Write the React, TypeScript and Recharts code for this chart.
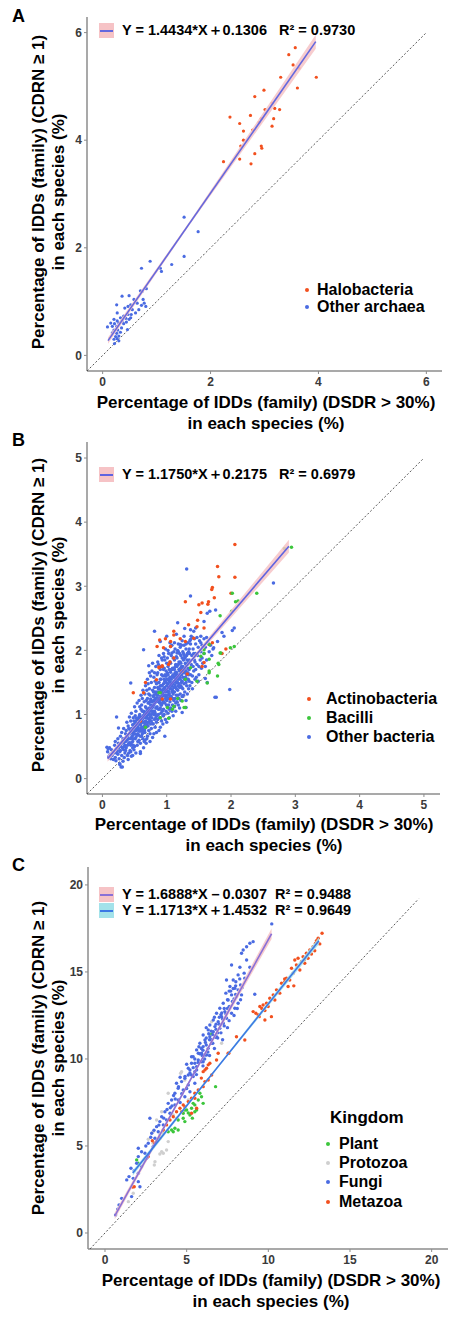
import React from "react";
import { ScatterChart, Scatter, XAxis, YAxis } from "recharts";

type Pt = [number, number];

// ---------- colours ----------
const ORANGE = "#F2501E";
const BLUE = "#4A6BE2";
const GREEN = "#3CC63C";
const GREY = "#CFCFCF";
const AXIS = "#8C8C8C";
const PINK = "#F6C3C6";
const CYAN = "#A3E2EA";

// ---------- panel A ----------
const halobacteria: Pt[] = [
  [3.57, 5.72], [3.45, 5.59], [3.53, 5.4], [3.64, 5.34], [3.96, 5.17], [3.3, 5.17], [3.61, 4.97],
  [2.99, 4.93], [2.82, 4.81], [3.14, 4.69], [3.19, 4.59], [3.28, 4.57], [3.01, 4.57], [2.36, 4.43],
  [2.74, 4.46], [2.94, 4.4], [2.9, 4.33], [3.17, 4.4], [2.54, 4.31], [3.14, 4.26], [2.78, 4.19],
  [2.61, 4.17], [2.61, 4.0], [2.56, 3.89], [2.94, 3.89], [2.95, 3.85], [2.82, 3.75], [2.54, 3.65],
  [2.24, 3.6], [2.75, 3.56],
];
const otherArchaea: Pt[] = [
  [1.51, 2.57], [1.77, 2.3], [1.51, 1.84], [1.28, 1.69], [0.88, 1.75], [0.72, 1.62], [1.07, 1.62],
  [1.09, 1.56], [0.81, 1.24], [0.7, 1.2], [0.73, 1.19], [0.36, 1.1], [0.49, 1.11], [0.58, 1.04],
  [0.75, 1.04], [0.77, 0.97], [0.72, 0.93], [0.8, 0.91], [0.52, 0.94], [0.47, 0.91], [0.64, 0.97],
  [0.26, 0.94], [0.41, 0.88], [0.55, 0.85], [0.27, 0.79], [0.47, 0.76], [0.53, 0.76], [0.39, 0.73],
  [0.33, 0.7], [0.43, 0.69], [0.49, 0.67], [0.21, 0.67], [0.27, 0.64], [0.36, 0.64], [0.15, 0.6],
  [0.22, 0.59], [0.3, 0.6], [0.39, 0.59], [0.09, 0.53], [0.18, 0.54], [0.26, 0.54], [0.35, 0.51],
  [0.46, 0.48], [0.21, 0.47], [0.28, 0.47], [0.18, 0.42], [0.26, 0.41], [0.33, 0.43], [0.24, 0.35],
  [0.3, 0.36], [0.21, 0.3], [0.27, 0.31], [0.22, 0.22], [0.3, 0.27], [0.67, 0.85], [0.61, 0.79],
  [0.52, 0.7], [0.44, 0.62],
];

// ---------- panel B ----------
const actinobacteria: Pt[] = [
  [2.06, 3.65], [1.79, 3.31], [1.81, 3.15], [2.06, 3.14], [1.71, 2.98], [1.7, 2.95], [1.74, 2.82],
  [1.65, 2.76], [1.64, 2.72], [1.29, 2.76], [1.5, 2.71], [1.55, 2.74], [1.53, 2.59], [1.48, 2.47],
  [1.34, 2.4], [1.11, 2.3], [1.11, 2.24], [1.47, 2.37], [1.58, 2.35], [0.89, 2.16], [0.98, 2.18],
  [1.06, 2.14], [0.85, 2.06], [1.21, 2.18], [1.29, 2.14], [1.42, 2.19], [1.92, 2.02], [0.95, 2.04],
  [1.86, 1.95], [0.88, 1.73], [0.93, 1.75], [1.66, 2.09], [1.71, 2.12], [2.0, 2.89],
  [0.48, 1.34], [0.84, 1.54], [0.88, 1.74], [0.93, 1.76], [1.05, 1.82], [0.64, 1.34], [1.06, 1.24],
  [0.59, 0.9], [1.55, 1.75], [0.67, 1.5], [1.06, 2.06], [1.11, 1.88], [1.03, 1.78], [1.24, 1.68],
  [1.32, 1.63], [1.58, 1.81], [0.93, 1.24],
];
const bacilli: Pt[] = [
  [2.83, 3.59], [2.94, 3.61], [2.4, 2.89], [2.02, 2.89], [2.07, 2.76], [2.11, 2.77], [1.83, 2.54],
  [2.01, 2.61], [1.83, 1.96], [2.05, 2.06], [1.8, 1.8], [1.58, 1.95], [1.53, 1.91], [1.66, 1.86],
  [1.37, 1.73], [1.63, 1.49], [1.47, 1.52], [1.29, 1.11], [1.17, 1.25], [1.03, 0.94], [0.67, 0.8],
  [0.9, 1.34], [1.66, 1.68], [1.09, 1.08], [1.58, 2.01], [1.66, 2.09], [1.81, 1.78], [1.84, 1.96],
  [1.99, 2.04], [1.79, 1.6], [1.66, 1.65], [1.29, 1.55], [1.24, 1.21], [1.11, 1.13], [0.9, 0.95],
  [1.27, 1.11], [0.88, 1.34], [1.01, 1.11],
];
const otherBacteria: Pt[] = [
  [0.08, 0.42], [0.1, 0.34], [0.12, 0.38], [0.14, 0.45], [0.11, 0.48], [0.15, 0.36], [0.13, 0.31],
  [0.16, 0.42], [0.09, 0.46], [0.18, 0.4], [0.2, 0.33], [0.22, 0.47], [0.19, 0.52], [0.24, 0.38],
  [0.21, 0.28], [0.25, 0.55], [0.23, 0.44], [0.17, 0.3], [0.26, 0.31], [0.2, 0.58], [0.24, 0.62],
  [0.27, 0.42], [0.29, 0.5], [0.3, 0.36], [0.31, 0.58], [0.28, 0.66], [0.33, 0.45], [0.32, 0.27],
  [0.34, 0.62], [0.35, 0.52], [0.3, 0.72], [0.33, 0.78], [0.27, 0.22], [0.35, 0.4], [0.29, 0.18],
  [0.34, 0.33], [0.31, 0.48], [0.36, 0.7], [0.37, 0.48], [0.38, 0.6], [0.39, 0.36], [0.4, 0.82],
  [0.41, 0.55], [0.42, 0.7], [0.43, 0.44], [0.44, 0.9], [0.45, 0.63], [0.38, 0.88], [0.4, 0.3],
  [0.42, 0.96], [0.44, 0.52], [0.43, 0.76], [0.39, 0.66], [0.41, 0.4], [0.45, 0.35], [0.37, 0.75],
  [0.46, 0.78], [0.45, 1.02], [0.47, 0.58], [0.48, 0.7], [0.49, 0.45], [0.5, 0.85], [0.51, 0.62],
  [0.52, 1.05], [0.53, 0.75], [0.54, 0.52], [0.55, 0.92], [0.48, 0.95], [0.5, 1.12], [0.52, 0.4],
  [0.54, 0.68], [0.53, 0.84], [0.47, 0.36], [0.49, 0.8], [0.51, 0.98], [0.55, 0.58], [0.5, 0.5],
  [0.46, 0.66], [0.54, 1.18], [0.52, 0.9], [0.55, 0.78], [0.48, 0.52], [0.56, 0.68], [0.57, 0.85],
  [0.58, 1.0], [0.59, 0.55], [0.6, 0.78], [0.61, 1.15], [0.62, 0.92], [0.63, 0.62], [0.64, 1.05],
  [0.65, 0.82], [0.57, 1.22], [0.59, 0.42], [0.6, 1.3], [0.62, 0.7], [0.63, 1.38], [0.64, 0.48],
  [0.58, 0.74], [0.61, 0.88], [0.65, 1.2], [0.56, 0.95], [0.6, 1.08], [0.62, 1.25], [0.64, 0.95],
  [0.58, 1.12], [0.65, 0.58], [0.63, 0.78], [0.57, 0.6], [0.61, 0.66], [0.59, 0.9], [0.66, 0.72],
  [0.67, 0.9], [0.68, 1.1], [0.69, 0.62], [0.7, 1.25], [0.71, 0.82], [0.72, 1.0], [0.73, 1.4],
  [0.74, 0.7], [0.75, 1.15], [0.66, 1.32], [0.67, 1.45], [0.68, 0.55], [0.69, 0.98], [0.7, 1.55],
  [0.71, 1.08], [0.72, 0.75], [0.73, 0.92], [0.74, 1.3], [0.75, 1.6], [0.66, 1.02], [0.68, 1.22],
  [0.7, 0.88], [0.72, 1.18], [0.74, 1.05], [0.67, 0.8], [0.69, 1.38], [0.71, 1.48], [0.73, 1.65],
  [0.75, 0.85], [0.7, 0.66], [0.72, 1.32], [0.68, 0.95], [0.74, 0.58], [0.66, 0.6], [0.76, 0.78],
  [0.77, 0.95], [0.78, 1.12], [0.79, 1.28], [0.8, 0.7], [0.81, 1.42], [0.82, 1.02], [0.83, 1.2],
  [0.84, 0.88], [0.85, 1.35], [0.76, 1.5], [0.77, 1.68], [0.78, 0.64], [0.79, 1.05], [0.8, 1.58],
  [0.81, 0.92], [0.82, 1.25], [0.83, 1.75], [0.84, 1.1], [0.85, 0.98], [0.76, 1.22], [0.78, 1.38],
  [0.8, 1.15], [0.82, 0.8], [0.84, 1.48], [0.77, 1.1], [0.79, 0.85], [0.81, 1.65], [0.83, 1.32],
  [0.85, 1.62], [0.78, 1.8], [0.8, 1.0], [0.82, 1.52], [0.84, 0.72], [0.76, 1.0], [0.86, 1.82],
  [0.8, 1.3], [0.83, 0.95], [0.86, 0.92], [0.87, 1.08], [0.88, 1.25], [0.89, 1.4], [0.9, 0.8],
  [0.91, 1.55], [0.92, 1.15], [0.93, 1.32], [0.94, 0.98], [0.95, 1.48], [0.86, 1.65], [0.87, 1.78],
  [0.88, 0.75], [0.89, 1.18], [0.9, 1.7], [0.91, 1.02], [0.92, 1.38], [0.93, 1.85], [0.94, 1.22],
  [0.95, 1.08], [0.86, 1.3], [0.88, 1.5], [0.9, 1.28], [0.92, 0.9], [0.94, 1.6], [0.87, 1.2],
  [0.89, 0.95], [0.91, 1.75], [0.93, 1.45], [0.95, 1.7], [0.88, 1.92], [0.9, 1.1], [0.92, 1.62],
  [0.94, 0.85], [0.96, 1.9], [0.9, 1.45], [0.93, 1.05], [0.87, 1.4], [0.95, 1.3], [0.91, 1.25],
  [0.96, 1.0], [0.97, 1.18], [0.98, 1.35], [0.99, 1.5], [1.0, 0.88], [1.01, 1.65], [1.02, 1.25],
  [1.03, 1.42], [1.04, 1.08], [1.05, 1.58], [0.96, 1.72], [0.97, 1.85], [0.98, 0.92], [0.99, 1.28],
  [1.0, 1.8], [1.01, 1.12], [1.02, 1.48], [1.03, 1.95], [1.04, 1.32], [1.05, 1.2], [0.96, 1.4],
  [0.98, 1.6], [1.0, 1.38], [1.02, 1.02], [1.04, 1.7], [0.97, 1.3], [0.99, 1.05], [1.01, 1.88],
  [1.03, 1.55], [1.05, 1.82], [0.98, 2.02], [1.0, 1.22], [1.02, 1.75], [1.04, 0.95], [1.0, 1.55],
  [1.03, 1.15], [0.97, 1.52], [1.05, 1.4], [1.01, 1.35], [0.99, 1.68], [1.06, 1.1], [1.07, 1.28],
  [1.08, 1.45], [1.09, 1.6], [1.1, 0.98], [1.11, 1.72], [1.12, 1.35], [1.13, 1.52], [1.14, 1.18],
  [1.15, 1.66], [1.06, 1.8], [1.07, 1.92], [1.08, 1.05], [1.09, 1.38], [1.1, 1.88], [1.11, 1.22],
  [1.12, 1.58], [1.13, 2.02], [1.14, 1.42], [1.15, 1.3], [1.06, 1.5], [1.08, 1.7], [1.1, 1.48],
  [1.12, 1.12], [1.14, 1.78], [1.07, 1.4], [1.09, 1.15], [1.11, 1.98], [1.13, 1.65], [1.15, 1.9],
  [1.08, 2.08], [1.1, 1.32], [1.12, 1.85], [1.14, 1.05], [1.1, 1.62], [1.13, 1.25], [1.15, 1.5],
  [1.16, 1.2], [1.17, 1.38], [1.18, 1.55], [1.19, 1.7], [1.2, 1.1], [1.21, 1.82], [1.22, 1.45],
  [1.23, 1.62], [1.24, 1.28], [1.25, 1.75], [1.16, 1.88], [1.17, 2.0], [1.18, 1.15], [1.19, 1.48],
  [1.2, 1.95], [1.21, 1.32], [1.22, 1.68], [1.23, 2.08], [1.24, 1.52], [1.25, 1.4], [1.16, 1.6],
  [1.18, 1.78], [1.2, 1.58], [1.22, 1.22], [1.24, 1.88], [1.17, 1.5], [1.19, 1.25], [1.21, 2.05],
  [1.23, 1.75], [1.25, 1.98], [1.2, 1.42], [1.22, 1.92], [1.18, 2.1], [1.26, 1.3], [1.27, 1.48],
  [1.28, 1.65], [1.29, 1.8], [1.3, 1.22], [1.31, 1.92], [1.32, 1.55], [1.33, 1.72], [1.34, 1.4],
  [1.35, 1.85], [1.26, 1.95], [1.27, 2.08], [1.28, 1.35], [1.29, 1.58], [1.3, 2.02], [1.31, 1.45],
  [1.32, 1.78], [1.33, 2.12], [1.34, 1.62], [1.35, 1.52], [1.26, 1.7], [1.28, 1.88], [1.3, 1.68],
  [1.32, 1.32], [1.34, 1.98], [1.36, 2.15], [1.3, 1.5], [1.33, 1.95], [1.36, 1.45], [1.37, 1.62],
  [1.38, 1.78], [1.39, 1.92], [1.4, 1.4], [1.41, 2.02], [1.42, 1.68], [1.43, 1.85], [1.44, 1.55],
  [1.45, 1.95], [1.37, 2.1], [1.39, 1.5], [1.41, 1.75], [1.43, 2.18], [1.45, 1.7], [1.38, 2.22],
  [1.42, 1.95], [1.44, 1.82], [1.4, 1.6], [1.46, 1.58], [1.47, 1.78], [1.48, 1.92], [1.49, 2.05],
  [1.5, 1.62], [1.51, 2.15], [1.52, 1.85], [1.53, 1.98], [1.54, 1.72], [1.55, 2.08], [1.47, 2.2],
  [1.5, 1.75], [1.53, 2.22], [1.55, 1.88], [1.49, 1.52], [1.56, 1.8], [1.58, 1.95], [1.6, 2.05],
  [1.62, 1.85], [1.64, 2.12], [1.66, 1.98], [1.58, 2.18], [1.62, 2.2], [1.68, 2.08], [1.7, 1.92],
  [1.6, 1.75],
  // densest core of the cloud
  [0.46, 0.72], [0.47, 0.84], [0.48, 0.62], [0.49, 0.9], [0.5, 0.7], [0.51, 0.78], [0.52, 0.64],
  [0.53, 0.94], [0.54, 0.82], [0.55, 0.7], [0.56, 0.86], [0.57, 0.76], [0.58, 0.92], [0.59, 0.66],
  [0.6, 0.96], [0.61, 0.8], [0.62, 1.05], [0.63, 0.88], [0.64, 0.72], [0.65, 1.0], [0.66, 0.86],
  [0.67, 1.12], [0.68, 0.8], [0.69, 1.05], [0.7, 0.94], [0.71, 1.18], [0.72, 0.88], [0.73, 1.1],
  [0.74, 0.96], [0.75, 1.24], [0.76, 0.9], [0.77, 1.2], [0.78, 1.02], [0.79, 1.15], [0.8, 1.22],
  [0.81, 1.05], [0.82, 1.35], [0.83, 1.1], [0.84, 1.26], [0.85, 1.12], [0.86, 1.42], [0.87, 1.0],
  [0.88, 1.35], [0.89, 1.22], [0.9, 1.55], [0.91, 1.15], [0.92, 1.45], [0.93, 1.28], [0.94, 1.38],
  [0.95, 1.2], [0.96, 1.55], [0.97, 1.42], [0.98, 1.25], [0.99, 1.6], [1.0, 1.45], [1.01, 1.3],
  [1.02, 1.62], [1.03, 1.36], [1.04, 1.52], [1.05, 1.28], [1.06, 1.66], [1.07, 1.55], [1.08, 1.35],
  [1.09, 1.72], [1.1, 1.58], [1.11, 1.42], [1.12, 1.7], [1.13, 1.46], [1.14, 1.62], [1.15, 1.4],
  [1.16, 1.75], [1.17, 1.62], [1.18, 1.45], [1.19, 1.82], [1.2, 1.68], [1.21, 1.55], [1.22, 1.8],
  [1.23, 1.5], [1.24, 1.7], [1.25, 1.58], [1.26, 1.85], [1.27, 1.72], [1.28, 1.55], [1.29, 1.9],
  [1.3, 1.78], [1.31, 1.62], [1.32, 1.95], [1.33, 1.65], [1.34, 1.82], [1.35, 1.7],
  [0.455, 0.78], [0.475, 0.68], [0.495, 0.74], [0.515, 0.88], [0.535, 0.68], [0.555, 0.8],
  [0.575, 0.98], [0.595, 0.84], [0.615, 0.74], [0.635, 0.98], [0.655, 0.76], [0.675, 0.96],
  [0.695, 0.84], [0.715, 1.02], [0.735, 1.2], [0.755, 1.06], [0.775, 0.86], [0.795, 1.35],
  [0.815, 1.18], [0.835, 0.98], [0.855, 1.25], [0.875, 1.5], [0.895, 1.08], [0.915, 1.35],
  [0.935, 1.18], [0.955, 1.4], [0.975, 1.62], [0.995, 1.15], [1.015, 1.55], [1.035, 1.25],
  [1.055, 1.45], [1.075, 1.7], [1.095, 1.25], [1.115, 1.52], [1.135, 1.75], [1.155, 1.55],
  [1.175, 1.3], [1.195, 1.6], [1.215, 1.72], [1.235, 1.42], [1.255, 1.65], [1.275, 1.92],
  [1.295, 1.68], [1.315, 1.85], [1.335, 1.55], [1.355, 1.95],
  [0.3, 0.55], [0.32, 0.62], [0.34, 0.5], [0.36, 0.58], [0.38, 0.68], [0.4, 0.62], [0.42, 0.56],
  [0.44, 0.74], [0.36, 0.44], [0.41, 0.78], [0.43, 0.62], [0.28, 0.44], [0.25, 0.48], [0.22, 0.4],
  [0.39, 0.52], [0.37, 0.64], [0.33, 0.56], [0.45, 0.56], [0.47, 0.48], [0.44, 0.42],
  [0.95, 1.95], [1.02, 2.0], [1.08, 1.96], [1.12, 2.12], [1.18, 1.98], [1.24, 2.15], [1.3, 2.1],
  [1.35, 2.02], [1.4, 2.2], [1.45, 2.1], [1.05, 2.12], [0.92, 1.88], [1.27, 2.22], [1.42, 2.3],
  // scattered points around the main cloud
  [1.31, 3.27], [2.66, 3.05], [1.37, 2.85], [0.81, 2.3], [1.17, 2.43], [0.64, 2.01], [1.67, 2.61],
  [1.76, 2.63], [2.05, 2.35], [2.02, 2.31], [1.86, 2.28], [1.37, 2.32], [1.58, 2.45], [1.63, 2.58],
  [0.72, 1.76], [0.44, 1.49], [0.22, 0.96], [0.25, 0.79], [0.07, 0.49], [0.1, 0.34], [0.31, 0.18],
  [0.27, 0.23], [0.59, 0.39], [0.97, 0.66], [1.98, 1.39], [1.75, 1.27], [1.77, 1.27], [1.24, 1.03],
  [1.3, 1.11], [1.6, 1.56], [1.63, 1.5], [1.06, 2.06], [1.21, 2.09], [1.37, 2.17], [1.53, 2.12],
  [1.16, 1.96], [1.89, 2.22], [1.79, 2.14], [1.73, 2.04], [1.45, 2.35], [1.0, 2.22], [0.9, 2.14],
  [1.15, 2.25], [1.28, 2.34], [1.72, 2.02],
];

// ---------- panel C ----------
const plant: Pt[] = [
  [6.77, 8.41], [5.91, 7.83], [5.71, 7.64], [6.01, 7.45], [5.5, 7.36], [5.3, 7.17], [5.0, 7.07],
  [5.61, 7.07], [4.79, 6.88], [5.2, 6.78], [4.48, 6.49], [4.79, 6.59], [4.89, 6.4], [5.5, 6.97],
  [4.28, 6.02], [4.08, 5.92], [3.87, 5.82], [4.48, 5.92], [2.04, 4.01], [3.16, 5.25], [5.81, 8.03],
  [5.4, 7.45], [4.89, 7.07], [4.18, 5.82], [1.94, 4.2], [6.53, 11.44], [5.1, 6.9], [5.35, 6.6],
];
const protozoa: Pt[] = [
  [4.69, 9.27], [3.87, 8.03], [3.47, 6.97], [4.18, 6.78], [4.38, 6.59], [3.16, 6.49], [2.95, 5.82],
  [3.36, 5.63], [3.57, 5.73], [3.87, 5.25], [2.65, 5.39], [2.95, 5.16], [3.47, 4.67], [3.57, 4.58],
  [3.36, 4.54], [3.77, 4.77], [3.06, 4.1], [3.02, 3.91], [1.73, 2.28], [1.43, 1.8], [4.89, 8.79],
  [5.1, 7.64], [6.53, 12.14], [7.14, 10.9], [4.63, 9.18],
];
const fungi: Pt[] = [
  [10.21, 17.76], [9.07, 16.74], [8.87, 16.65], [8.67, 16.45], [8.46, 16.26], [8.36, 16.07],
  [8.67, 15.69], [8.87, 15.27], [8.15, 14.83], [8.56, 14.64], [7.85, 14.54], [8.3, 14.25],
  [7.65, 14.16], [7.95, 14.06], [8.15, 13.97], [7.4, 13.78], [7.75, 13.68], [8.05, 13.58],
  [8.36, 13.68], [7.54, 13.39], [7.85, 13.29], [8.15, 13.2], [7.24, 13.2], [7.65, 13.01],
  [7.95, 12.91], [7.03, 12.91], [7.34, 12.72], [7.75, 12.63], [6.83, 12.63], [7.14, 12.43],
  [7.44, 12.34], [6.63, 12.24], [6.93, 12.14], [7.24, 12.05], [6.42, 11.95], [6.73, 11.86],
  [7.03, 11.76], [6.32, 11.67], [6.63, 11.57], [6.01, 11.38], [6.42, 11.28], [6.83, 11.28],
  [6.12, 11.09], [6.53, 10.9], [5.81, 10.9], [6.01, 10.71], [6.32, 10.61], [5.61, 10.52],
  [5.91, 10.33], [6.22, 10.23], [5.4, 10.13], [5.71, 9.94], [6.01, 9.84], [5.3, 9.75], [5.61, 9.56],
  [5.2, 9.37], [5.5, 9.27], [5.1, 9.08], [5.4, 8.99], [7.75, 15.4], [8.26, 15.27], [8.52, 14.93],
  [8.01, 14.44], [7.44, 14.54], [9.17, 13.72], [7.6, 13.9], [7.9, 13.45], [7.1, 12.55], [7.5, 12.9],
  [6.7, 12.4], [6.9, 11.5], [6.2, 11.8], [6.5, 11.1], [5.95, 10.2], [6.15, 10.95], [5.75, 10.7],
  [5.3, 10.13], [5.71, 10.33], [6.12, 10.23], [5.5, 9.75], [5.91, 9.84], [5.1, 9.47], [5.61, 9.37],
  [5.3, 9.08], [4.89, 8.89], [4.38, 8.6], [4.69, 8.7], [5.1, 8.51], [5.5, 8.6], [4.48, 8.32],
  [4.79, 8.22], [5.2, 8.12], [4.28, 8.03], [4.08, 7.64], [4.48, 7.64], [4.89, 7.83], [3.87, 7.45],
  [4.28, 7.36], [3.67, 6.97], [3.98, 6.88], [3.47, 6.68], [3.77, 6.49], [3.36, 6.4], [2.75, 6.59],
  [3.16, 6.11], [3.57, 6.21], [2.86, 5.73], [3.26, 5.82], [3.06, 5.44], [2.65, 5.16], [2.95, 4.96],
  [2.04, 4.87], [2.24, 4.67], [2.45, 4.58], [2.04, 4.39], [2.55, 4.29], [1.94, 4.01], [2.24, 3.81],
  [1.59, 3.72], [1.79, 3.58], [2.04, 3.43], [1.47, 3.24], [1.73, 3.14], [1.33, 3.05], [2.04, 2.95],
  [2.14, 2.66], [1.63, 2.09], [1.02, 1.99], [0.86, 1.61], [0.78, 1.36], [0.65, 1.03], [4.6, 8.95],
  [5.0, 9.7], [4.2, 7.9], [4.0, 7.2],
  [5.8, 10.3], [6.0, 10.5], [6.2, 10.8], [6.4, 11.1], [6.6, 11.4], [6.8, 11.7], [7.0, 12.0],
  [7.2, 12.3], [7.4, 12.6], [7.6, 13.0], [7.8, 13.3], [8.0, 13.7], [5.7, 9.8], [6.1, 10.0],
  [6.3, 10.4], [6.6, 10.9], [6.9, 11.2], [7.1, 11.5], [7.3, 11.9], [7.6, 12.2], [7.9, 12.5],
  [8.1, 12.9], [8.3, 13.4], [5.5, 10.0], [5.9, 10.6], [6.2, 11.2], [6.5, 11.6], [6.8, 12.0],
  [7.0, 12.4], [7.3, 12.9], [7.5, 13.4], [7.7, 13.9], [8.0, 14.2], [8.4, 14.1], [6.0, 9.6],
  [6.4, 10.2], [6.7, 10.6], [7.2, 11.1], [7.5, 11.8], [5.2, 9.2], [5.4, 9.5], [4.9, 9.0],
  [5.6, 9.1], [4.5, 8.4], [4.7, 8.0], [5.0, 8.3], [4.3, 7.7], [4.6, 7.5], [3.8, 7.1], [4.1, 7.3],
  [3.6, 6.6], [3.3, 6.2], [3.0, 5.9], [2.8, 5.5], [2.5, 5.0], [6.35, 11.45], [6.75, 11.25],
  [7.15, 12.65], [7.85, 14.05], [8.25, 14.6],
];
const metazoa: Pt[] = [
  [13.29, 17.22], [13.05, 16.94], [12.89, 16.65], [13.15, 16.61], [12.74, 16.45], [12.54, 16.26],
  [12.84, 16.22], [12.33, 16.07], [12.64, 16.03], [12.13, 15.88], [12.43, 15.79], [11.82, 15.79],
  [12.03, 15.59], [11.62, 15.69], [12.23, 15.5], [11.72, 15.4], [11.42, 15.21], [11.93, 15.11],
  [11.52, 14.93], [11.11, 14.64], [11.31, 14.54], [11.01, 14.44], [10.81, 14.35], [11.56, 14.2],
  [11.21, 14.16], [10.5, 13.97], [10.7, 13.78], [10.3, 13.68], [10.09, 13.49], [10.4, 13.39],
  [9.89, 13.2], [9.68, 13.1], [9.99, 13.01], [9.48, 13.01], [9.79, 12.78], [9.24, 12.63],
  [9.38, 12.53], [9.07, 12.72], [9.44, 12.43], [10.19, 12.43], [9.79, 12.24], [8.05, 11.28],
  [8.56, 11.09], [7.58, 10.33], [6.93, 10.33], [6.83, 9.94], [6.32, 9.66], [6.22, 9.47], [6.01, 9.27],
  [12.95, 16.8], [12.2, 15.7], [11.0, 14.6], [9.6, 12.9], [7.54, 10.33], [6.42, 9.75], [6.53, 9.08],
  [6.12, 8.7], [6.01, 8.41], [5.71, 8.22], [5.5, 8.03], [5.3, 7.74], [5.1, 7.55], [4.79, 7.36],
  [4.59, 7.17], [4.38, 6.97], [4.69, 6.97], [4.18, 6.68], [3.98, 6.49], [4.89, 7.26], [3.77, 6.21],
  [3.57, 5.92], [3.36, 5.44], [3.06, 5.16], [2.65, 4.39], [2.45, 4.2], [1.79, 2.66], [5.61, 7.17],
  [5.5, 7.74], [5.3, 6.88], [6.12, 9.37], [6.32, 8.79], [1.69, 2.64], [2.9, 5.3], [5.9, 8.9],
];

// fitted lines (equations from the figure) and visual confidence band half-widths
const fitA = { slope: 1.4434, intercept: 0.1306, from: 0.1, to: 3.95, mid: 1.6, band: [0.06, 0.03, 0.13] };
const fitB = { slope: 1.175, intercept: 0.2175, from: 0.08, to: 2.9, mid: 0.95, band: [0.05, 0.015, 0.1] };
const fitFungi = { slope: 1.6888, intercept: -0.0307, from: 0.6, to: 10.2, mid: 5.5, band: [0.2, 0.08, 0.3] };
const fitMetazoa = { slope: 1.1713, intercept: 1.4532, from: 1.7, to: 13.1, mid: 7, band: [0.15, 0.06, 0.2] };

const toObj = (pts: Pt[]) => pts.map(([x, y]) => ({ x, y }));
type Fit = typeof fitA;
const fitLine = (f: Fit) => [
  { x: f.from, y: f.slope * f.from + f.intercept },
  { x: f.to, y: f.slope * f.to + f.intercept },
];
const fitBand = (f: Fit) => {
  const xs = [f.from, f.mid, f.to];
  const lo = xs.map((x, i) => ({ x, y: f.slope * x + f.intercept - f.band[i] }));
  const hi = xs.map((x, i) => ({ x, y: f.slope * x + f.intercept + f.band[i] })).reverse();
  return [...lo, ...hi];
};

const FONT = "'Liberation Sans', Arial, Helvetica, sans-serif";
const tickStyle = {
  fill: "#3a3a3a",
  fontSize: 12,
  fontWeight: 700,
  fontFamily: "'Liberation Sans Narrow', 'Liberation Sans', Arial, sans-serif",
};

const dot = (color: string, r: number) => (p: any) => <circle cx={p.cx} cy={p.cy} r={r} fill={color} />;
const noShape = () => <g />;

interface PanelProps {
  top: number;
  height: number;
  margin: { top: number; right: number; bottom: number; left: number };
  xDomain: [number, number];
  yDomain: [number, number];
  ticks: number[];
  diag: [number, number];
  r: number;
  groups: { pts: Pt[]; color: string }[];
  fits: { fit: Fit; color: string; band: string }[];
}

function Panel({ top, height, margin, xDomain, yDomain, ticks, diag, r, groups, fits }: PanelProps) {
  return (
    <div style={{ position: "absolute", left: 0, top }}>
      <ScatterChart width={449} height={height} margin={margin}>
        <XAxis
          type="number"
          dataKey="x"
          domain={xDomain}
          ticks={ticks}
          allowDataOverflow
          height={30}
          axisLine={{ stroke: AXIS, strokeWidth: 1.5 }}
          tickLine={{ stroke: AXIS }}
          tickSize={3}
          tickMargin={3}
          tick={tickStyle}
        />
        <YAxis
          type="number"
          dataKey="y"
          domain={yDomain}
          ticks={ticks}
          allowDataOverflow
          width={30}
          axisLine={{ stroke: AXIS, strokeWidth: 1.5 }}
          tickLine={{ stroke: AXIS }}
          tickSize={3}
          tickMargin={2}
          tick={tickStyle}
        />
        <Scatter
          data={[{ x: diag[0], y: diag[0] }, { x: diag[1], y: diag[1] }]}
          line={{ stroke: "#444", strokeWidth: 0.9, strokeDasharray: "2 2" }}
          lineType="joint"
          shape={noShape}
          isAnimationActive={false}
        />
        {groups.map((g, i) => (
          <Scatter key={i} data={toObj(g.pts)} fill={g.color} shape={dot(g.color, r)} isAnimationActive={false} />
        ))}
        {fits.map((f, i) => (
          <Scatter
            key={"b" + i}
            data={fitBand(f.fit)}
            line={{ stroke: "none", fill: f.band, fillOpacity: 0.85 }}
            lineType="joint"
            shape={noShape}
            isAnimationActive={false}
          />
        ))}
        {fits.map((f, i) => (
          <Scatter
            key={"l" + i}
            data={fitLine(f.fit)}
            line={{ stroke: f.color, strokeWidth: 1.6 }}
            lineType="joint"
            shape={noShape}
            isAnimationActive={false}
          />
        ))}
      </ScatterChart>
    </div>
  );
}

const abs = (left: number, top: number, extra: React.CSSProperties = {}): React.CSSProperties => ({
  position: "absolute",
  left,
  top,
  fontFamily: FONT,
  fontWeight: 700,
  color: "#000",
  whiteSpace: "pre",
  ...extra,
});

function FitRow({ top, band, line, text }: { top: number; band: string; line: string; text: string }) {
  return (
    <div style={abs(99, top, { display: "flex", alignItems: "center", height: 15, fontSize: 14.5 })}>
      <span style={{ display: "inline-block", width: 15, height: 15, background: band, position: "relative" }}>
        <span style={{ position: "absolute", left: 1, right: 1, top: 6.5, height: 2, background: line }} />
      </span>
      <span style={{ marginLeft: 8, lineHeight: "15px" }}>{text}</span>
    </div>
  );
}

function DotRow({ x, cy, color, label, textX }: { x: number; cy: number; color: string; label: string; textX: number }) {
  return (
    <>
      <span style={{ position: "absolute", left: x - 1.8, top: cy - 1.8, width: 3.6, height: 3.6, borderRadius: 2, background: color }} />
      <div style={abs(textX, cy - 9, { fontSize: 16, lineHeight: "18px" })}>{label}</div>
    </>
  );
}

function YTitle({ cy }: { cy: number }) {
  const s = (cx: number): React.CSSProperties =>
    abs(cx, cy, { fontSize: 17, transform: "translate(-50%, -50%) rotate(-90deg)", lineHeight: "19px" });
  return (
    <>
      <div style={s(38)}>Percentage of IDDs (family) (CDRN ≥ 1)</div>
      <div style={s(58)}>in each species (%)</div>
    </>
  );
}

function XTitle({ cx, top }: { cx: number; top: number }) {
  return (
    <div style={abs(cx - 240, top, { width: 480, textAlign: "center", fontSize: 17, lineHeight: "21px" })}>
      {"Percentage of IDDs (family) (DSDR > 30%)"}
      <br />
      {"in each species (%)"}
    </div>
  );
}

export default function App() {
  return (
    <div style={{ position: "relative", width: 449, height: 1318, overflow: "hidden", background: "#fff" }}>
      <style>{"body{margin:0}"}</style>

      <Panel
        top={0}
        height={440}
        margin={{ top: 17, right: 7, bottom: 39, left: 57 }}
        xDomain={[-0.29, 6.29]}
        yDomain={[-0.29, 6.29]}
        ticks={[0, 2, 4, 6]}
        diag={[-0.29, 6]}
        r={1.6}
        groups={[
          { pts: otherArchaea, color: BLUE },
          { pts: halobacteria, color: ORANGE },
        ]}
        fits={[{ fit: fitA, color: "#6468DE", band: PINK }]}
      />
      <Panel
        top={430}
        height={440}
        margin={{ top: 12, right: 9, bottom: 46, left: 57 }}
        xDomain={[-0.24, 5.25]}
        yDomain={[-0.24, 5.25]}
        ticks={[0, 1, 2, 3, 4, 5]}
        diag={[-0.24, 5]}
        r={1.75}
        groups={[
          { pts: otherBacteria, color: BLUE },
          { pts: actinobacteria, color: ORANGE },
          { pts: bacilli, color: GREEN },
        ]}
        fits={[{ fit: fitB, color: "#5F63E0", band: PINK }]}
      />
      <Panel
        top={855}
        height={463}
        margin={{ top: 12, right: 1, bottom: 39, left: 58 }}
        xDomain={[-1.04, 21]}
        yDomain={[-0.92, 21.03]}
        ticks={[0, 5, 10, 15, 20]}
        diag={[-0.92, 19.2]}
        r={1.7}
        groups={[
          { pts: protozoa, color: GREY },
          { pts: plant, color: GREEN },
          { pts: metazoa, color: ORANGE },
          { pts: fungi, color: BLUE },
        ]}
        fits={[
          { fit: fitFungi, color: "#8A70D6", band: PINK },
          { fit: fitMetazoa, color: "#3C78E4", band: CYAN },
        ]}
      />

      {/* panel letters */}
      <div style={abs(12, 7, { fontSize: 18, lineHeight: "18px" })}>A</div>
      <div style={abs(12, 431, { fontSize: 18, lineHeight: "18px" })}>B</div>
      <div style={abs(12, 856, { fontSize: 18, lineHeight: "18px" })}>C</div>

      {/* axis titles */}
      <YTitle cy={192} />
      <YTitle cy={615} />
      <YTitle cy={1058} />
      <XTitle cx={266} top={392} />
      <XTitle cx={264} top={814} />
      <XTitle cx={271} top={1270} />

      {/* regression legends */}
      <FitRow top={23} band={PINK} line="#6468DE" text={"Y = 1.4434*X＋0.1306   R² = 0.9730"} />
      <FitRow top={467} band={PINK} line="#5F63E0" text={"Y = 1.1750*X＋0.2175   R² = 0.6979"} />
      <FitRow top={887} band={PINK} line="#8A70D6" text={"Y = 1.6888*X－0.0307  R² = 0.9488"} />
      <FitRow top={903} band={CYAN} line="#3C78E4" text={"Y = 1.1713*X＋1.4532  R² = 0.9649"} />

      {/* group legends */}
      <DotRow x={307} cy={290} color={ORANGE} label="Halobacteria" textX={317} />
      <DotRow x={307} cy={307} color={BLUE} label="Other archaea" textX={317} />

      <DotRow x={309} cy={699} color={ORANGE} label="Actinobacteria" textX={326} />
      <DotRow x={309} cy={718} color={GREEN} label="Bacilli" textX={326} />
      <DotRow x={309} cy={737} color={BLUE} label="Other bacteria" textX={326} />

      <div style={abs(330, 1109, { fontSize: 17, lineHeight: "18px" })}>Kingdom</div>
      <DotRow x={328} cy={1144} color={GREEN} label="Plant" textX={339} />
      <DotRow x={328} cy={1163} color={GREY} label="Protozoa" textX={339} />
      <DotRow x={328} cy={1182} color={BLUE} label="Fungi" textX={339} />
      <DotRow x={328} cy={1202} color={ORANGE} label="Metazoa" textX={339} />
    </div>
  );
}
